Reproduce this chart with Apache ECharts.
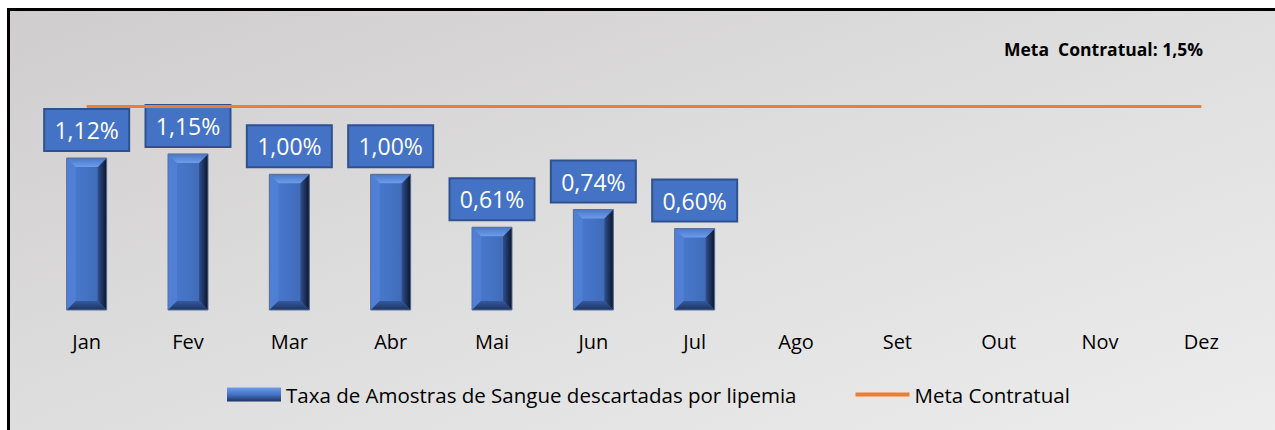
<!DOCTYPE html>
<html>
<head>
<meta charset="utf-8">
<script src="https://cdn.jsdelivr.net/npm/echarts@6/dist/echarts.min.js"></script>
<style>
  html, body { margin: 0; padding: 0; width: 1275px; height: 430px; overflow: hidden; background: #fff; }
  #frame {
    position: absolute; left: 7px; top: 8px; width: 1275px; height: 430px;
    border-left: 3px solid #000; border-top: 3px solid #000;
    background: linear-gradient(160deg, #cfcdcd 0%, #dedddd 45%, #ededed 100%);
  }
  #chart { position: absolute; left: 0; top: 0; width: 1275px; height: 430px; }
</style>
</head>
<body>
<div id="frame"></div>
<div id="chart"></div>
<script>
// Monthly rate of blood samples discarded due to lipemia (%)
const months = ['Jan', 'Fev', 'Mar', 'Abr', 'Mai', 'Jun', 'Jul', 'Ago', 'Set', 'Out', 'Nov', 'Dez'];
const taxaDescarte = [1.12, 1.15, 1.00, 1.00, 0.61, 0.74, 0.60, null, null, null, null, null];
const metaContratual = [1.5, 1.5, 1.5, 1.5, 1.5, 1.5, 1.5, 1.5, 1.5, 1.5, 1.5, 1.5];
const serieTaxa = 'Taxa de Amostras de Sangue descartadas por lipemia';
const serieMeta = 'Meta Contratual';
const tituloMeta = 'Meta  Contratual: 1,5%';

const BLUE = '#4472C4';
const BLUE_EDGE = '#2F528F';
const ORANGE = '#ED7D31';
const FONT = '"Open Sans", "Noto Sans", sans-serif';

const fmt = v => v.toFixed(2).replace('.', ',') + '%';

// Beveled column drawn with the axis coordinate system
function renderBevelBar(params, api) {
  const idx = api.value(0);
  const val = api.value(1);
  if (val == null || isNaN(val)) return;
  const base = api.coord([idx, 0]);
  const top = api.coord([idx, val]);
  const w = 40, b = 9;
  const x0 = base[0] - w / 2, x1 = base[0] + w / 2;
  const y0 = top[1], y1 = base[1];
  const boxW = 85, boxH = 42, gap = 7;
  return {
    type: 'group',
    children: [
      { type: 'rect', shape: { x: x0, y: y0, width: w, height: y1 - y0 },
        style: { fill: new echarts.graphic.LinearGradient(0, 0, 1, 0, [
          { offset: 0, color: '#4a7bd0' }, { offset: 0.5, color: '#4472C4' }, { offset: 1, color: '#3d66b0' }]) } },
      { type: 'polygon', shape: { points: [[x0, y0], [x0 + b, y0 + b], [x0 + b, y1 - b], [x0, y1]] },
        style: { fill: '#4f80d6' } },
      { type: 'polygon', shape: { points: [[x1, y0], [x1 - b, y0 + b], [x1 - b, y1 - b], [x1, y1]] },
        style: { fill: new echarts.graphic.LinearGradient(0, 0, 1, 0, [
          { offset: 0, color: '#2f5091' }, { offset: 1, color: '#0c1528' }]) } },
      { type: 'polygon', shape: { points: [[x0, y0], [x1, y0], [x1 - b, y0 + b], [x0 + b, y0 + b]] },
        style: { fill: new echarts.graphic.LinearGradient(0, 0, 0, 1, [
          { offset: 0, color: '#4a78c8' }, { offset: 1, color: '#6d9ceb' }]) } },
      { type: 'polygon', shape: { points: [[x0, y1], [x1, y1], [x1 - b, y1 - b], [x0 + b, y1 - b]] },
        style: { fill: new echarts.graphic.LinearGradient(0, 0, 0, 1, [
          { offset: 0, color: '#35599c' }, { offset: 1, color: '#1d3461' }]) } },
      { type: 'rect', shape: { x: x0, y: y0, width: w, height: y1 - y0 },
        style: { fill: 'none', stroke: '#5a6f99', lineWidth: 1 } },
      { type: 'rect', shape: { x: base[0] - boxW / 2, y: y0 - gap - boxH, width: boxW, height: boxH },
        style: { fill: BLUE, stroke: BLUE_EDGE, lineWidth: 2 } },
      { type: 'text', x: base[0], y: y0 - gap - boxH / 2,
        style: { text: fmt(val), fill: '#ffffff', font: '23px ' + FONT, align: 'center', verticalAlign: 'middle' } }
    ]
  };
}

const chart = echarts.init(document.getElementById('chart'), null, { renderer: 'svg' });
chart.setOption({
  backgroundColor: 'transparent',
  animation: false,
  title: {
    text: tituloMeta, right: 67, top: 35,
    textStyle: { fontFamily: FONT, fontSize: 17.5, fontWeight: 'bold', color: '#000' }
  },
  grid: { left: 36, right: 23, top: 38.6, bottom: 120, containLabel: false },
  legend: {
    top: 379, left: 222, itemGap: 59, itemWidth: 54, itemHeight: 14,
    textStyle: { fontFamily: FONT, fontSize: 20.5, color: '#000' },
    data: [
      { name: serieTaxa, icon: 'rect', itemStyle: { color: new echarts.graphic.LinearGradient(0, 0, 0, 1, [
        { offset: 0, color: '#6d9ceb' }, { offset: 0.5, color: '#4472C4' }, { offset: 1, color: '#1d3461' }]) } },
      { name: serieMeta, icon: 'path://M0,0 L54,0 L54,4 L0,4 Z', itemStyle: { color: ORANGE } }
    ]
  },
  xAxis: {
    type: 'category', data: months,
    axisLine: { show: false }, axisTick: { show: false }, splitLine: { show: false },
    axisLabel: { fontFamily: FONT, fontSize: 20, color: '#000', margin: 21 }
  },
  yAxis: { type: 'value', min: 0, max: 2, show: false, splitLine: { show: false } },
  series: [
    {
      name: serieTaxa, type: 'custom', renderItem: renderBevelBar,
      encode: { x: 0, y: 1 },
      itemStyle: { color: BLUE },
      data: taxaDescarte.map((v, i) => [i, v])
    },
    {
      name: serieMeta, type: 'line', data: metaContratual,
      symbol: 'none', lineStyle: { color: ORANGE, width: 3 }, itemStyle: { color: ORANGE }
    }
  ]
});
</script>
</body>
</html>
